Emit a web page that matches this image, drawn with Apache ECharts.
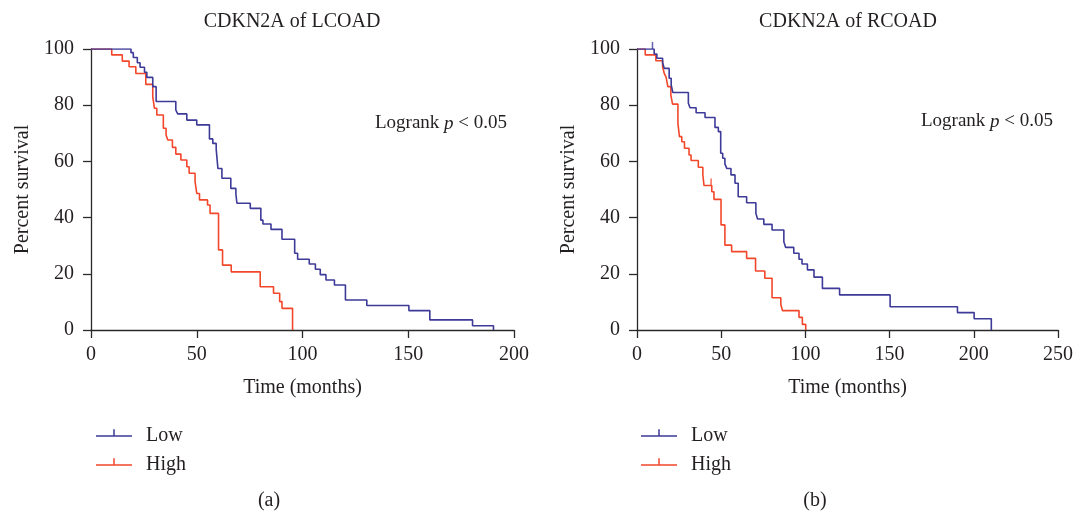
<!DOCTYPE html>
<html>
<head>
<meta charset="utf-8">
<script src="https://cdn.jsdelivr.net/npm/echarts@6/dist/echarts.min.js"></script>
<style>html,body{margin:0;padding:0;background:#fff}#c{width:1076px;height:512px}</style>
</head>
<body>
<div id="c"></div>
<script>
// ---- data (Kaplan-Meier steps: time in months, percent survival after the step) ----
const lcoadLowT  = [0, 18.9, 20.0, 21.9, 23.2, 25.3, 26.4, 29.2, 30.8, 40.1, 41.0, 45.3, 50.0, 56.0, 57.6, 59.2, 60.0, 61.9, 66.1, 68.5, 69.0, 75.3, 80.3, 81.3, 85.1, 90.3, 96.3, 97.7, 103.2, 106.1, 108.4, 111.1, 115.1, 120.3, 130.4, 150.3, 160.2, 180.4, 190.3];
const lcoadLowS  = [100, 98.7, 97.0, 95.1, 93.5, 91.7, 89.9, 86.6, 81.3, 78.3, 76.9, 74.7, 73.0, 68.0, 66.4, 64.3, 57.5, 54.0, 50.4, 48.4, 45.1, 43.3, 39.1, 37.7, 35.8, 32.3, 27.3, 25.2, 23.5, 21.6, 19.7, 17.8, 16.0, 10.7, 8.7, 6.9, 3.6, 1.5, 0];
const lcoadHighT = [0, 9.8, 14.8, 18.0, 21.2, 25.9, 29.2, 30.0, 31.1, 34.2, 35.5, 36.3, 38.5, 40.1, 42.5, 45.3, 46.4, 49.2, 50.0, 51.3, 55.1, 56.3, 60.3, 62.2, 66.3, 80.0, 86.3, 89.2, 90.3, 95.3];
const lcoadHighS = [100, 97.9, 95.7, 93.7, 91.3, 87.4, 83.0, 78.9, 76.5, 71.8, 69.4, 67.6, 65.0, 62.6, 60.5, 58.1, 55.8, 52.8, 48.6, 46.3, 44.5, 41.5, 28.5, 23.1, 20.7, 15.4, 13.1, 10.1, 7.7, 0];

const rcoadLowT  = [0, 10.2, 11.8, 15.2, 16.2, 19.1, 20.3, 21.3, 30.5, 31.5, 35.1, 40.4, 46.3, 48.3, 49.7, 50.9, 52.2, 53.3, 55.8, 58.2, 60.1, 65.1, 70.6, 71.6, 75.3, 80.2, 87.2, 88.3, 93.1, 96.2, 98.0, 101.2, 105.1, 110.1, 120.3, 150.3, 190.3, 200.2, 210.4];
const rcoadLowS  = [100, 98.2, 96.7, 95.1, 93.1, 89.6, 87.2, 84.5, 80.7, 79.1, 77.3, 75.6, 72.1, 70.6, 62.9, 61.1, 59.1, 57.5, 55.2, 52.2, 47.4, 45.3, 41.5, 39.5, 37.6, 35.6, 31.4, 29.4, 27.3, 25.2, 23.5, 21.4, 18.8, 14.8, 12.5, 8.3, 6.2, 4.0, 0];
const rcoadHighT = [0, 4.9, 11.2, 15.2, 16.2, 17.3, 18.3, 20.1, 21.1, 24.3, 25.2, 26.6, 28.2, 30.9, 32.1, 36.4, 39.1, 39.8, 44.4, 45.7, 49.9, 52.2, 56.2, 65.1, 70.4, 75.9, 80.2, 85.4, 86.4, 96.2, 98.2, 100.2];
const rcoadHighS = [100, 97.9, 95.8, 93.7, 91.3, 89.9, 86.6, 83.6, 80.4, 73.5, 68.8, 67.0, 64.7, 62.3, 60.3, 57.9, 55.2, 51.4, 49.2, 46.5, 37.4, 30.2, 27.9, 25.5, 21.0, 18.4, 11.5, 9.1, 6.9, 4.5, 2.0, 0];

// censor marks (time, percent)
const rcoadLowCensT = [9.2];
const rcoadLowCensS = [100];
const rcoadHighCensT = [44.0];
const rcoadHighCensS = [51.4];

const titles = ['CDKN2A of LCOAD', 'CDKN2A of RCOAD'];
const panelLabels = ['(a)', '(b)'];
const xMax = [200, 250];
const yTicks = [0, 20, 40, 60, 80, 100];
const groupNames = ['Low', 'High'];

// ---- styling ----
const FONT = 'Liberation Serif';
const FS = 20;
const BLUE = '#3d3a98';
const RED = '#f2472b';
const AX = '#2a2a2a';
const TXT = '#231f20';

function zip(t, s) { return t.map((v, i) => [v, s[i]]); }

function kmSeries(name, t, s, color, idx) {
  return {
    name: name, type: 'line', step: 'end', xAxisIndex: idx, yAxisIndex: idx,
    data: zip(t, s), showSymbol: false, symbol: 'none',
    lineStyle: { color: color, width: 1.6 }, itemStyle: { color: color },
    animation: false, z: name === 'Low' ? 3 : 2
  };
}
function censSeries(name, t, s, color, idx) {
  return {
    name: name, type: 'scatter', xAxisIndex: idx, yAxisIndex: idx,
    data: zip(t, s), symbol: 'rect', symbolSize: [1.5, 7], symbolOffset: [0, -3.5],
    itemStyle: { color: color }, animation: false, silent: true
  };
}

const grids = [
  { left: 91, top: 49, width: 423, height: 281 },
  { left: 637, top: 49, width: 422, height: 281 }
];

function xAxis(i) {
  return {
    gridIndex: i, type: 'value', min: 0, max: xMax[i], interval: 50,
    name: 'Time (months)', nameLocation: 'middle', nameGap: 48,
    nameTextStyle: { fontFamily: FONT, fontSize: FS, color: TXT },
    axisLine: { show: true, lineStyle: { color: AX, width: 1.3 } },
    axisTick: { show: true, length: 8, inside: false, lineStyle: { color: AX, width: 1.3 } },
    axisLabel: { fontFamily: FONT, fontSize: FS, color: TXT, margin: 15 },
    splitLine: { show: false }
  };
}
function yAxis(i) {
  return {
    gridIndex: i, type: 'value', min: 0, max: 100, interval: 20,
    name: 'Percent survival', nameLocation: 'middle', nameGap: 58,
    nameTextStyle: { fontFamily: FONT, fontSize: FS, color: TXT },
    axisLine: { show: true, lineStyle: { color: AX, width: 1.3 } },
    axisTick: { show: true, length: 8, inside: false, lineStyle: { color: AX, width: 1.3 } },
    axisLabel: { fontFamily: FONT, fontSize: FS, color: TXT, margin: 17 },
    splitLine: { show: false }
  };
}

// line through the middle of the icon box, censor tick rising from it (tiny invisible sliver keeps the box symmetric)
const legendIcon = 'path://M0,6h36v1.5h-36z M17.25,0h1.5v6h-1.5z M17.9,13.49h0.2v0.01h-0.2z';
function legend(left) {
  return {
    left: left, top: 421, orient: 'vertical', itemGap: 9,
    itemWidth: 36, itemHeight: 13.5, icon: legendIcon,
    data: groupNames,
    textStyle: { fontFamily: FONT, fontSize: FS, color: TXT, padding: [0, 0, 0, 9] }
  };
}

function textTitle(text, left, top, align, size) {
  const fs = size || FS;
  const t = { text: text, left: left, top: top, padding: 0,
    textStyle: { fontFamily: FONT, fontSize: fs, fontWeight: 'normal', color: TXT,
      rich: { i: { fontFamily: FONT, fontSize: fs, fontStyle: 'italic', color: TXT } } } };
  if (align) t.textAlign = align;
  return t;
}

const option = {
  backgroundColor: '#ffffff',
  animation: false,
  title: [
    textTitle(titles[0], 292, 12, 'center'),
    textTitle(titles[1], 848, 12, 'center'),
    textTitle('Logrank {i|p} < 0.05', 375, 114, null, 19),
    textTitle('Logrank {i|p} < 0.05', 921, 112, null, 19),
    textTitle(panelLabels[0], 269, 491, 'center'),
    textTitle(panelLabels[1], 815, 491, 'center')
  ],
  legend: [legend(91), legend(636)],
  grid: grids,
  xAxis: [xAxis(0), xAxis(1)],
  yAxis: [yAxis(0), yAxis(1)],
  series: [
    kmSeries('Low', lcoadLowT, lcoadLowS, BLUE, 0),
    kmSeries('High', lcoadHighT, lcoadHighS, RED, 0),
    kmSeries('Low', rcoadLowT, rcoadLowS, BLUE, 1),
    kmSeries('High', rcoadHighT, rcoadHighS, RED, 1),
    censSeries('Low', rcoadLowCensT, rcoadLowCensS, BLUE, 1),
    censSeries('High', rcoadHighCensT, rcoadHighCensS, RED, 1)
  ]
};

const chart = echarts.init(document.getElementById('c'), null, { renderer: 'canvas' });
chart.setOption(option);
</script>
</body>
</html>
